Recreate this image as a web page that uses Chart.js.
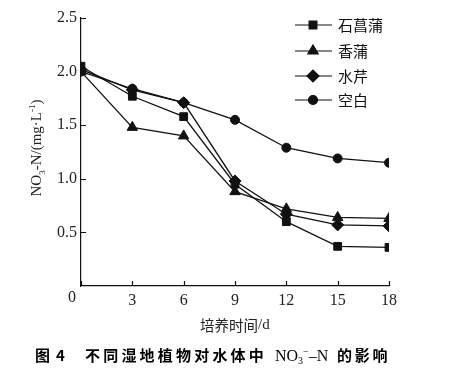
<!DOCTYPE html>
<html>
<head>
<meta charset="utf-8">
<script src="https://cdn.jsdelivr.net/npm/chart.js@4.4.1/dist/chart.umd.min.js"></script>
<style>
    html, body { margin: 0; padding: 0; background: #fff; }
    #wrap { width: 465px; height: 374px; position: relative; }
</style>
</head>
<body>
<div id="wrap"><canvas id="chart" width="465" height="374"></canvas></div>
<script>
// culture days
const days = [0, 3, 6, 9, 12, 15, 18];
const seriesNames = ['石菖蒲', '香蒲', '水芹', '空白'];
const acorus = [2.05, 1.77, 1.58, 0.95, 0.60, 0.37, 0.36];
const typha = [2.00, 1.48, 1.40, 0.88, 0.72, 0.64, 0.63];
const oenanthe = [2.02, 1.83, 1.71, 0.98, 0.67, 0.57, 0.56];
const blank = [2.00, 1.84, 1.71, 1.55, 1.29, 1.19, 1.15];
const yTicks = [0.5, 1.0, 1.5, 2.0, 2.5];
const xTicks = [0, 3, 6, 9, 12, 15, 18];

const markers = [
    { style: 'rect', radius: 5.5 },
    { style: 'triangle', radius: 6 },
    { style: 'rectRot', radius: 6 },
    { style: 'circle', radius: 4.5 }
];
const allValues = [acorus, typha, oenanthe, blank];

const serif = '"Liberation Serif", "DejaVu Serif", serif';
const cjk = '"Noto Sans CJK SC", sans-serif';

// draw a run of text pieces with sub/superscripts
function drawRich(ctx, x, y, parts) {
    let cx = x;
    parts.forEach(p => {
        ctx.font = p.font;
        ctx.fillText(p.text, cx, y + (p.dy || 0));
        cx += ctx.measureText(p.text).width + (p.gap || 0);
    });
    return cx;
}
function richWidth(ctx, parts) {
    let w = 0;
    parts.forEach(p => {
        ctx.font = p.font;
        w += ctx.measureText(p.text).width + (p.gap || 0);
    });
    return w;
}

const decorations = {
    id: 'decorations',
    afterDraw(chart) {
        const ctx = chart.ctx;
        const xs = chart.scales.x;
        const ys = chart.scales.y;
        const area = chart.chartArea;
        ctx.save();
        ctx.strokeStyle = '#111';
        ctx.lineWidth = 1.2;
        // inward tick marks
        ctx.beginPath();
        xTicks.forEach(t => {
            const px = Math.round(xs.getPixelForValue(t)) + 0.5;
            ctx.moveTo(px, area.bottom);
            ctx.lineTo(px, area.bottom - 5);
        });
        yTicks.forEach(t => {
            const py = Math.round(ys.getPixelForValue(t)) + 0.5;
            ctx.moveTo(area.left, py);
            ctx.lineTo(area.left + 5, py);
        });
        ctx.stroke();

        // origin label sits left of the axis
        ctx.fillStyle = '#222';
        ctx.font = '16px ' + serif;
        ctx.textAlign = 'center';
        ctx.textBaseline = 'middle';
        ctx.fillText('0', 72, 298);

        // legend
        ctx.fillStyle = '#111';
        const rows = [25, 51, 76, 100];
        seriesNames.forEach((name, i) => {
            const y = rows[i];
            ctx.beginPath();
            ctx.lineWidth = 1.2;
            ctx.moveTo(295, y);
            ctx.lineTo(332, y);
            ctx.stroke();
            Chart.helpers.drawPoint(ctx, {
                pointStyle: markers[i].style,
                radius: markers[i].radius,
                borderWidth: 1
            }, 313, y);
            ctx.fill();
            ctx.font = '15px ' + cjk;
            ctx.textAlign = 'left';
            ctx.fillText(name, 338, y);
        });

        // y axis title
        ctx.save();
        ctx.fillStyle = '#222';
        ctx.translate(41, 148);
        ctx.rotate(-Math.PI / 2);
        const yParts = [
            { text: 'NO', font: '15px ' + serif },
            { text: '3', font: '9px ' + serif, dy: 4 },
            { text: '-N/(mg·L', font: '15px ' + serif },
            { text: '-1', font: '9px ' + serif, dy: -6 },
            { text: ')', font: '15px ' + serif }
        ];
        ctx.textBaseline = 'alphabetic';
        const yw = richWidth(ctx, yParts);
        drawRich(ctx, -yw / 2, 0, yParts);
        ctx.restore();

        // x axis title
        ctx.fillStyle = '#222';
        ctx.textBaseline = 'middle';
        const xParts = [
            { text: '培养时间', font: '14.5px ' + cjk },
            { text: '/d', font: '15px ' + serif }
        ];
        drawRich(ctx, 200, 325, xParts);

        // caption
        ctx.fillStyle = '#000';
        ctx.font = 'bold 15px ' + cjk;
        ctx.fillText('图', 35, 355);
        ctx.fillText('4', 56, 355);
        const capA = '不同湿地植物对水体中';
        for (let i = 0; i < capA.length; i++) {
            ctx.fillText(capA[i], 85 + i * 18.2, 355);
        }
        ctx.textBaseline = 'alphabetic';
        const capParts = [
            { text: 'NO', font: '16px ' + serif },
            { text: '3', font: '10px ' + serif, dy: 3 },
            { text: '−', font: '10px ' + serif, dy: -6 },
            { text: '–N', font: '16px ' + serif }
        ];
        drawRich(ctx, 275, 361, capParts);
        ctx.textBaseline = 'middle';
        ctx.font = 'bold 15px ' + cjk;
        const capB = '的影响';
        for (let i = 0; i < capB.length; i++) {
            ctx.fillText(capB[i], 337 + i * 17.8, 355);
        }
        ctx.restore();
    }
};

const datasets = seriesNames.map((name, i) => ({
    label: name,
    data: days.map((d, j) => ({ x: d, y: allValues[i][j] })),
    borderColor: '#111',
    backgroundColor: '#111',
    borderWidth: 1.3,
    pointStyle: markers[i].style,
    pointRadius: markers[i].radius,
    pointBorderWidth: 1,
    tension: 0
}));

new Chart(document.getElementById('chart'), {
    type: 'line',
    data: { datasets: datasets },
    options: {
        responsive: false,
        animation: false,
        layout: { padding: { left: 41, right: 76, top: 18, bottom: 58 } },
        plugins: {
            legend: { display: false },
            tooltip: { enabled: false }
        },
        scales: {
            x: {
                type: 'linear',
                min: 0,
                max: 18,
                afterFit: s => { s.height = 30; },
                afterBuildTicks: s => { s.ticks = xTicks.map(v => ({ value: v })); },
                grid: { display: true, drawOnChartArea: false, drawTicks: false },
                border: { color: '#111', width: 1.2 },
                ticks: {
                    padding: 5,
                    color: '#222',
                    font: { family: serif, size: 16 },
                    callback: v => (v === 0 ? '' : v)
                }
            },
            y: {
                min: 0,
                max: 2.5,
                afterFit: s => { s.width = 40; },
                afterBuildTicks: s => { s.ticks = yTicks.map(v => ({ value: v })); },
                grid: { display: true, drawOnChartArea: false, drawTicks: false },
                border: { color: '#111', width: 1.2 },
                ticks: {
                    padding: 4,
                    color: '#222',
                    font: { family: serif, size: 16 },
                    callback: v => v.toFixed(1)
                }
            }
        }
    },
    plugins: [decorations]
});
</script>
</body>
</html>
